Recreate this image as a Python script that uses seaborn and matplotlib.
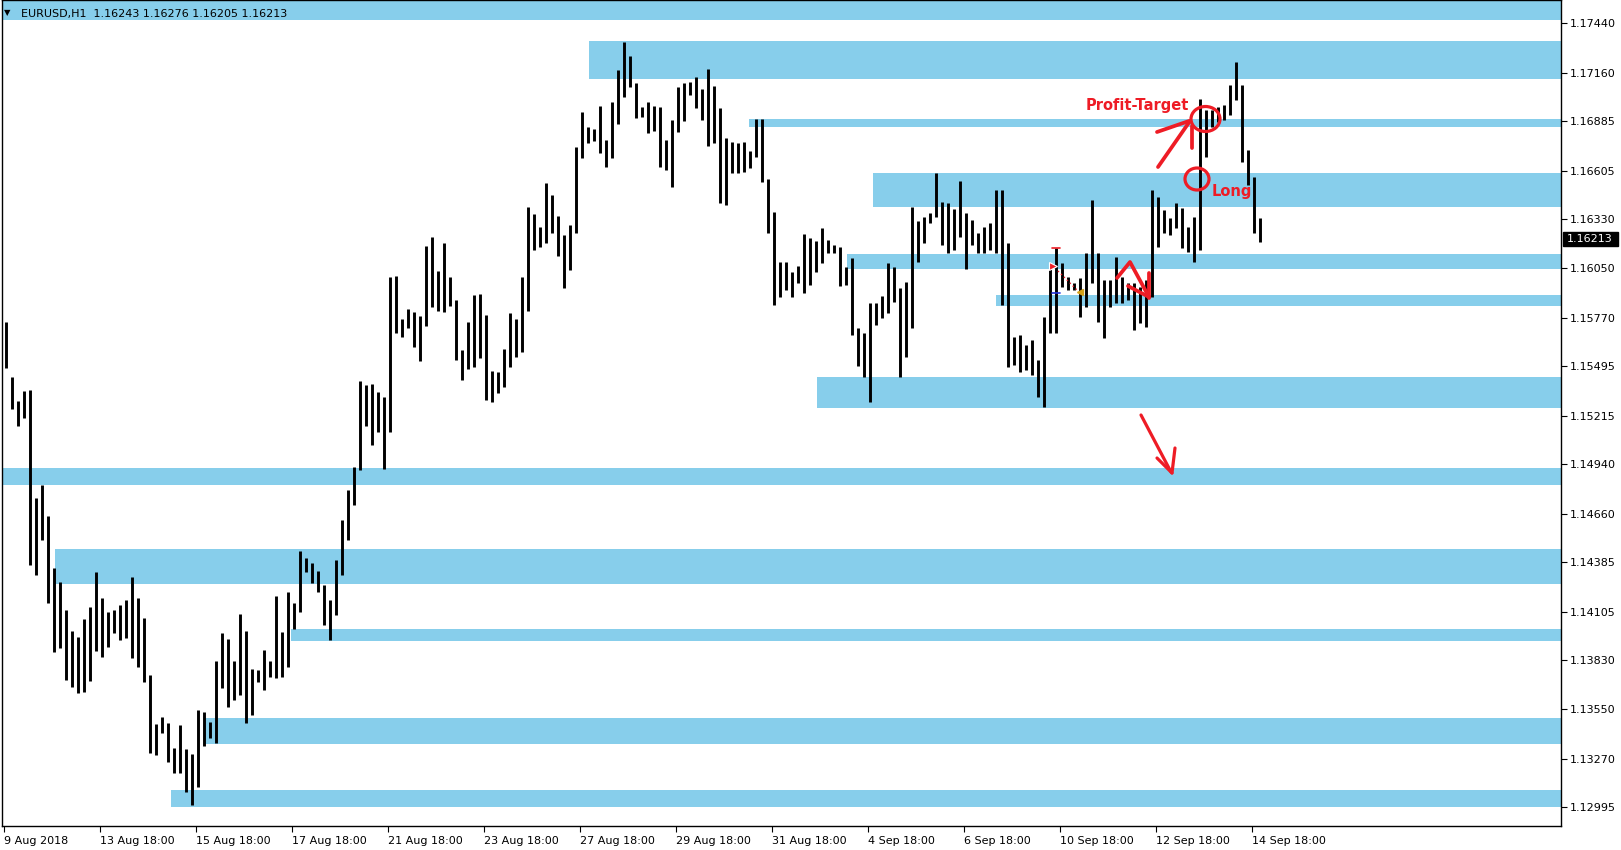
import numpy as np
import pandas as pd
import matplotlib
matplotlib.use("Agg")
import matplotlib.pyplot as plt
import seaborn as sns
from matplotlib.patches import Ellipse, Rectangle
from matplotlib.lines import Line2D
from matplotlib.transforms import IdentityTransform

# ---------------- data (EURUSD H1, each entry = 3 hourly bars) ----------------
bar_high = [
    1.15746, 1.15435, 1.15298, 1.15355, 1.15361, 1.14748, 1.14822, 1.14646, 1.14351, 1.14272,
    1.14113, 1.13994, 1.13960, 1.14062, 1.14130, 1.14329, 1.14181, 1.14102, 1.14113, 1.14142,
    1.14170, 1.14301, 1.14181, 1.14068, 1.13745, 1.13467, 1.13507, 1.13473, 1.13331, 1.13461,
    1.13325, 1.13297, 1.13546, 1.13535, 1.13478, 1.13824, 1.13983, 1.13949, 1.13824, 1.14091,
    1.13994, 1.13779, 1.13773, 1.13886, 1.13824, 1.14193, 1.13989, 1.14215, 1.14153, 1.14448,
    1.14408, 1.14380, 1.14335, 1.14255, 1.14170, 1.14397, 1.14624, 1.14794, 1.14924, 1.15412,
    1.15389, 1.15395, 1.15350, 1.15321, 1.16002, 1.16008, 1.15763, 1.15820, 1.15803, 1.15780,
    1.16177, 1.16228, 1.16036, 1.16194, 1.16002, 1.15871, 1.15587, 1.15746, 1.15899, 1.15905,
    1.15786, 1.15468, 1.15463, 1.15593, 1.15797, 1.15763, 1.16002, 1.16398, 1.16359, 1.16285,
    1.16534, 1.16466, 1.16347, 1.16239, 1.16296, 1.16739, 1.16937, 1.16852, 1.16840, 1.16971,
    1.16778, 1.16994, 1.17175, 1.17334, 1.17254, 1.17101, 1.16965, 1.16994, 1.16971, 1.16965,
    1.16778, 1.16892, 1.17079, 1.17101, 1.17107, 1.17135, 1.17067, 1.17181, 1.17084, 1.16960,
    1.16790, 1.16767, 1.16761, 1.16767, 1.16716, 1.16897, 1.16897, 1.16557, 1.16370, 1.16087,
    1.16087, 1.16030, 1.16064, 1.16245, 1.16223, 1.16205, 1.16279, 1.16211, 1.16183, 1.16172,
    1.16058, 1.16109, 1.15712, 1.15684, 1.15854, 1.15854, 1.15894, 1.16081, 1.16058, 1.15939,
    1.15973, 1.16398, 1.16319, 1.16342, 1.16364, 1.16591, 1.16427, 1.16421, 1.16387, 1.16546,
    1.16364, 1.16325, 1.16250, 1.16285, 1.16308, 1.16495, 1.16495, 1.16194, 1.15661, 1.15672,
    1.15616, 1.15644, 1.15531, 1.15775, 1.16081, 1.16166, 1.16081, 1.16002, 1.15968, 1.15996,
    1.16137, 1.16438, 1.16137, 1.15985, 1.15985, 1.16115, 1.16002, 1.15968, 1.15968, 1.15945,
    1.15985, 1.16495, 1.16455, 1.16381, 1.16336, 1.16421, 1.16393, 1.16285, 1.16342, 1.17011,
    1.16948, 1.16948, 1.16965, 1.16977, 1.17090, 1.17220, 1.17090, 1.16722, 1.16568, 1.16336,
]
bar_low = [
    1.15485, 1.15253, 1.15157, 1.15202, 1.14368, 1.14312, 1.14510, 1.14153, 1.13875, 1.13898,
    1.13716, 1.13677, 1.13643, 1.13649, 1.13711, 1.13881, 1.13847, 1.13904, 1.13983, 1.13943,
    1.13955, 1.13841, 1.13790, 1.13705, 1.13303, 1.13292, 1.13416, 1.13252, 1.13189, 1.13189,
    1.13081, 1.13008, 1.13109, 1.13342, 1.13387, 1.13359, 1.13671, 1.13563, 1.13603, 1.13631,
    1.13473, 1.13518, 1.13705, 1.13660, 1.13733, 1.13728, 1.13733, 1.13790, 1.14006, 1.14102,
    1.14329, 1.14267, 1.14215, 1.14028, 1.13943, 1.14085, 1.14312, 1.14510, 1.14709, 1.14907,
    1.15157, 1.15049, 1.15123, 1.14913, 1.15123, 1.15684, 1.15661, 1.15712, 1.15604, 1.15525,
    1.15723, 1.15831, 1.15808, 1.15803, 1.15837, 1.15530, 1.15417, 1.15480, 1.15491, 1.15542,
    1.15304, 1.15293, 1.15344, 1.15378, 1.15491, 1.15548, 1.15576, 1.15808, 1.16155, 1.16172,
    1.16194, 1.16250, 1.16121, 1.15939, 1.16041, 1.16250, 1.16676, 1.16761, 1.16772, 1.16704,
    1.16625, 1.16676, 1.16869, 1.17022, 1.17079, 1.16903, 1.16909, 1.16818, 1.16829, 1.16625,
    1.16608, 1.16512, 1.16824, 1.16886, 1.17033, 1.16960, 1.16892, 1.16744, 1.16761, 1.16421,
    1.16410, 1.16591, 1.16591, 1.16597, 1.16619, 1.16682, 1.16540, 1.16250, 1.15843, 1.15888,
    1.15928, 1.15888, 1.15967, 1.15911, 1.15956, 1.16030, 1.16081, 1.16137, 1.16137, 1.15950,
    1.15956, 1.15672, 1.15496, 1.15434, 1.15293, 1.15729, 1.15769, 1.15797, 1.15860, 1.15434,
    1.15548, 1.15712, 1.16087, 1.16194, 1.16308, 1.16342, 1.16183, 1.16137, 1.16155, 1.16228,
    1.16047, 1.16183, 1.16137, 1.16137, 1.16155, 1.16137, 1.15843, 1.15491, 1.15502, 1.15463,
    1.15474, 1.15446, 1.15321, 1.15264, 1.15684, 1.15684, 1.15945, 1.15928, 1.15928, 1.15775,
    1.15831, 1.15968, 1.15746, 1.15655, 1.15831, 1.15854, 1.15854, 1.15871, 1.15700, 1.15740,
    1.15718, 1.15888, 1.16172, 1.16250, 1.16239, 1.16279, 1.16166, 1.16143, 1.16087, 1.16155,
    1.16682, 1.16852, 1.16880, 1.16892, 1.16920, 1.17005, 1.16653, 1.16523, 1.16250, 1.16200,
]
BARS_PER_ENTRY = 3

# support / resistance zones (price range and the hourly bar where each starts)
zone_low = [1.17459, 1.17124, 1.16852, 1.16398, 1.16047, 1.15837, 1.15259,
            1.14822, 1.14261, 1.13938, 1.13354, 1.12996]
zone_high = [1.17600, 1.17340, 1.16897, 1.16591, 1.16132, 1.15899, 1.15434,
             1.14918, 1.14459, 1.14006, 1.13501, 1.13093]
zone_start_bar = [-0.85, 292.6, 372.6, 434.6, 421.6, 496.0, 406.6,
                  -0.85, 25.6, 143.6, 100.6, 83.6]

ytick_values = [1.17440, 1.17160, 1.16885, 1.16605, 1.16330, 1.16050, 1.15770,
                1.15495, 1.15215, 1.14940, 1.14660, 1.14385, 1.14105, 1.13830,
                1.13550, 1.13270, 1.12995]
xtick_labels = ["9 Aug 2018", "13 Aug 18:00", "15 Aug 18:00", "17 Aug 18:00",
                "21 Aug 18:00", "23 Aug 18:00", "27 Aug 18:00", "29 Aug 18:00",
                "31 Aug 18:00", "4 Sep 18:00", "6 Sep 18:00", "10 Sep 18:00",
                "12 Sep 18:00", "14 Sep 18:00"]
XTICK_STEP = 48
header_text = "EURUSD,H1  1.16243 1.16276 1.16205 1.16213"
last_price = 1.16213

# ---------------- figure ----------------
W, H, DPI = 1621, 850, 100
sns.set_theme(style="white")
plt.rcParams["font.family"] = ["DejaVu Sans"]
plt.rcParams["axes.edgecolor"] = "black"

fig = plt.figure(figsize=(W / DPI, H / DPI), dpi=DPI, facecolor="white")
ax = fig.add_axes([2 / W, (H - 826) / H, (1561 - 2) / W, 826 / H])
ax.set_facecolor("white")
ax.set_xlim(-0.85, 778.65)
ax.set_ylim(1.12889, 1.17572)

SKY = "#87CEEB"
xmax = ax.get_xlim()[1]
for lo, hi, st in zip(zone_low, zone_high, zone_start_bar):
    ax.fill_between([st, xmax], lo, hi, color=SKY, lw=0, zorder=1)

n = len(bar_high)
centers = np.arange(n) * BARS_PER_ENTRY + 1
df = pd.DataFrame({
    "bar": np.repeat(np.arange(n), 2),
    "x": np.repeat(centers, 2),
    "price": np.column_stack([bar_low, bar_high]).ravel(),
})
sns.lineplot(data=df, x="x", y="price", units="bar", estimator=None, sort=False,
             color="black", linewidth=2.1, legend=False, ax=ax, zorder=2,
             solid_capstyle="butt")
ax.set_xlabel("")
ax.set_ylabel("")

# axes / ticks
for s in ax.spines.values():
    s.set_visible(True)
    s.set_color("black")
    s.set_linewidth(1.0)
ax.yaxis.tick_right()
ax.set_yticks(ytick_values)
ax.set_yticklabels([f"{v:.5f}" for v in ytick_values])
ax.set_xticks(np.arange(len(xtick_labels)) * XTICK_STEP)
ax.set_xticklabels(xtick_labels)
for lbl in ax.get_xticklabels():
    lbl.set_horizontalalignment("left")
ax.tick_params(axis="both", which="both", direction="out", length=4, width=0.8,
               colors="black", labelsize=8)
ax.tick_params(axis="x", pad=3, bottom=True)
ax.tick_params(axis="y", pad=2, right=True, left=False)
ax.grid(False)

# ---------------- overlay annotations (image pixel geometry) ----------------
ID = IdentityTransform()
RED = "#ee1c25"


def stroke(pts, color=RED, lw=2.7, **kw):
    xs = [p[0] for p in pts]
    ys = [H - p[1] for p in pts]
    fig.add_artist(Line2D(xs, ys, transform=ID, color=color, lw=lw,
                          solid_capstyle="round", solid_joinstyle="round",
                          zorder=5, **kw))


# header
fig.text(4 / W, 1 - 15.5 / H, "\u25bc", fontsize=6, color="black", va="baseline")
fig.text(21 / W, 1 - 17 / H, header_text, fontsize=8, color="black", va="baseline")

# profit target / long
fig.text(1086 / W, 1 - 110 / H, "Profit-Target", fontsize=10.5, fontweight="bold",
         color=RED, va="baseline", zorder=6)
fig.text(1212 / W, 1 - 196 / H, "Long", fontsize=10.5, fontweight="bold",
         color=RED, va="baseline", zorder=6)
fig.add_artist(Ellipse((1205.5, H - 119), 29, 25, transform=ID, fill=False,
                       ec=RED, lw=2.3, zorder=6))
fig.add_artist(Ellipse((1197, H - 179), 24, 22, transform=ID, fill=False,
                       ec=RED, lw=2.3, zorder=6))
stroke([(1158, 167), (1190, 121)])
stroke([(1157, 132), (1189, 121)])
stroke([(1192, 148), (1192, 126)])

# small ^ arrow
stroke([(1117, 278), (1130, 262), (1149, 297)])
stroke([(1128, 286), (1149, 297)])
stroke([(1149, 273), (1149, 298)])

# big down arrow
stroke([(1141, 415), (1171, 472)], lw=2.3)
stroke([(1157, 458), (1172, 473)], lw=2.3)
stroke([(1175, 448), (1172, 473)], lw=2.3)

# trade markers
stroke([(1052, 247.5), (1060, 247.5)], lw=1.2)
stroke([(1052, 292.5), (1060, 292.5)], color="#1f2fd8", lw=1.2)
stroke([(1058, 271), (1078, 291)], lw=1.0, linestyle=(0, (1, 2)))
fig.add_artist(Line2D([1053], [H - 266], transform=ID, marker=">", markersize=6,
                      color=RED, mec="white", mew=0.8, zorder=6))
fig.add_artist(Line2D([1080], [H - 292], transform=ID, marker="<", markersize=5,
                      color="#d4a017", mec="#d4a017", zorder=6))

# current price label
fig.add_artist(Rectangle((1563, H - 246), 55, 14, transform=ID, fc="black",
                         ec="black", zorder=6))
fig.text(1567 / W, 1 - 239.5 / H, f"{last_price:.5f}", fontsize=8, color="white",
         va="center", ha="left", zorder=7)

fig.savefig("out.png", dpi=DPI, facecolor="white")
